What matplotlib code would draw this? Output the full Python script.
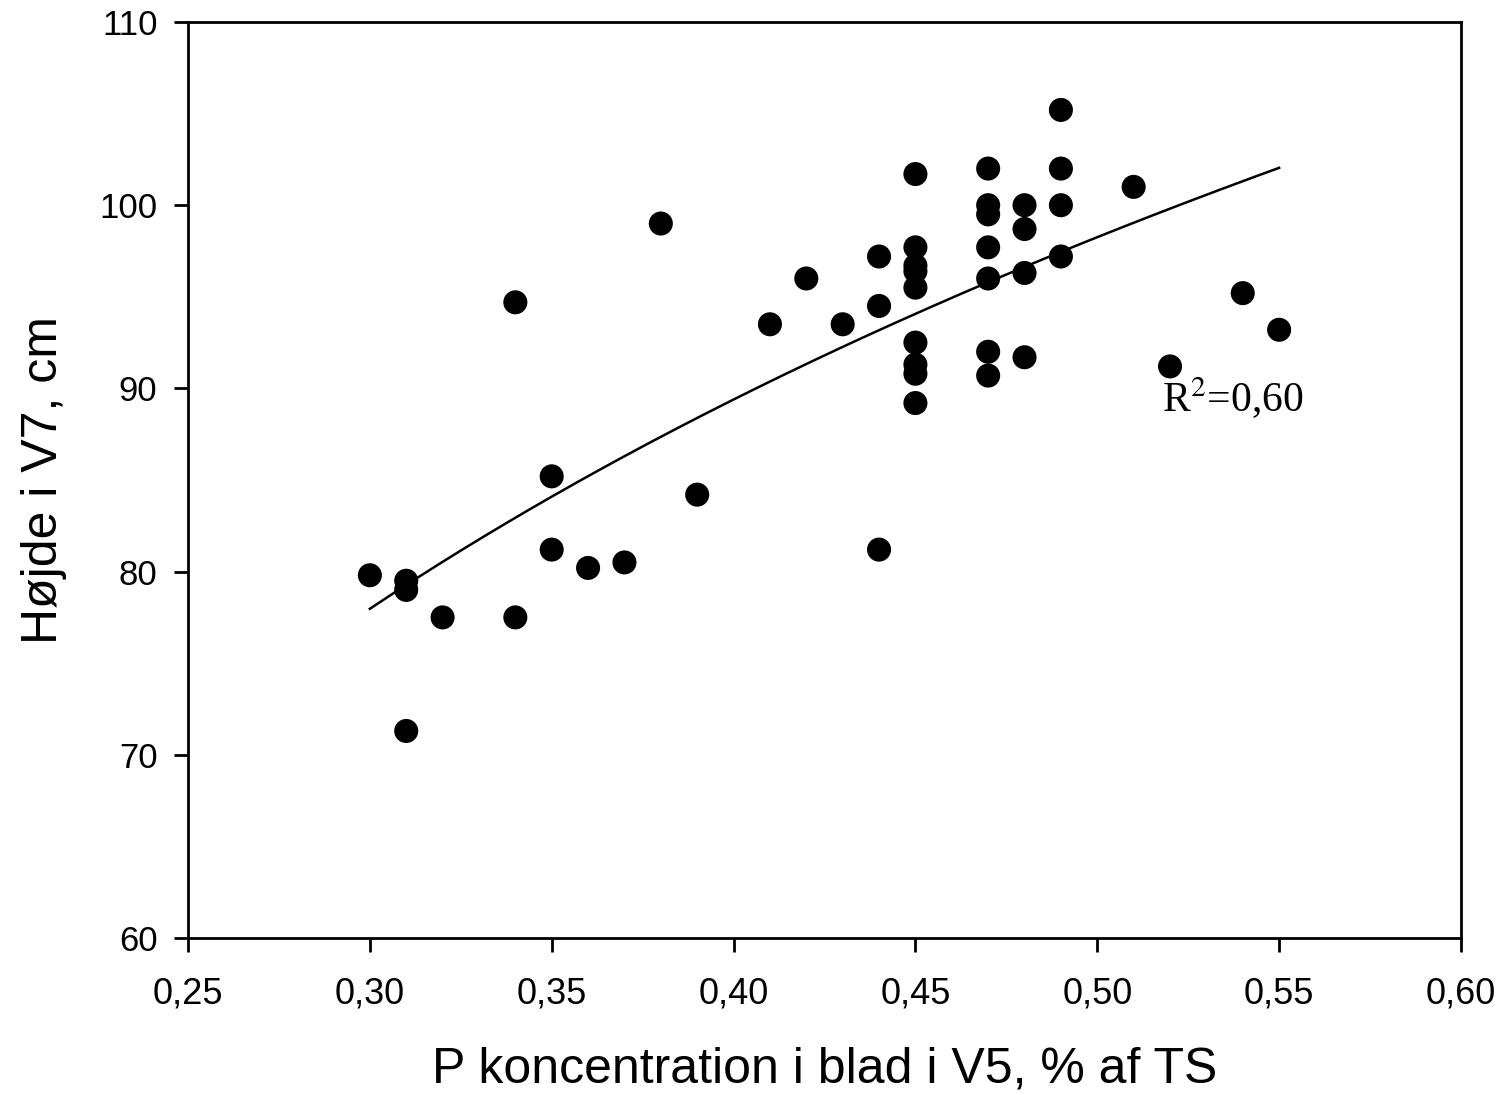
import numpy as np
import matplotlib
matplotlib.use("Agg")
import matplotlib.pyplot as plt
from matplotlib.ticker import FuncFormatter

# P concentration in leaf at V5 (% of DM) and height at V7 (cm)
p_conc = [0.30, 0.31, 0.31, 0.31, 0.32, 0.34, 0.34, 0.35, 0.35, 0.36,
          0.37, 0.38, 0.39, 0.41, 0.42, 0.43, 0.44, 0.44, 0.44,
          0.45, 0.45, 0.45, 0.45, 0.45, 0.45, 0.45, 0.45, 0.45,
          0.47, 0.47, 0.47, 0.47, 0.47, 0.47, 0.47,
          0.48, 0.48, 0.48, 0.48,
          0.49, 0.49, 0.49, 0.49, 0.51, 0.52, 0.54, 0.55]
hoejde = [79.8, 79.5, 79.0, 71.3, 77.5, 94.7, 77.5, 85.2, 81.2, 80.2,
          80.5, 99.0, 84.2, 93.5, 96.0, 93.5, 97.2, 94.5, 81.2,
          101.7, 97.7, 96.7, 96.4, 95.5, 92.5, 91.3, 90.8, 89.2,
          102.0, 100.0, 99.5, 97.7, 96.0, 92.0, 90.7,
          100.0, 98.7, 96.3, 91.7,
          105.2, 102.0, 100.0, 97.2, 101.0, 91.2, 95.2, 93.2]

x_ticks = [0.25, 0.30, 0.35, 0.40, 0.45, 0.50, 0.55, 0.60]
y_ticks = [60, 70, 80, 90, 100, 110]

x = np.array(p_conc)
y = np.array(hoejde)

# logarithmic regression y = a + b*ln(x)
b, a = np.polyfit(np.log(x), y, 1)
xf = np.linspace(x.min(), x.max(), 200)
yf = a + b * np.log(xf)

fig = plt.figure(figsize=(15.04, 10.95), dpi=100)
ax = fig.add_axes([0.125, 0.1434, 0.8464, 0.8365])

ax.scatter(x, y, s=300, c="black", edgecolors="none", zorder=3)
ax.plot(xf, yf, color="black", lw=1.8, zorder=2)

ax.set_xlim(0.25, 0.60)
ax.set_ylim(60, 110)
ax.set_xticks(x_ticks)
ax.set_yticks(y_ticks)
ax.xaxis.set_major_formatter(FuncFormatter(lambda v, p: ("%.2f" % v).replace(".", ",")))
ax.tick_params(direction="out", length=10, width=2, top=False, right=False)
ax.tick_params(axis="x", pad=18, labelsize=26)
ax.tick_params(axis="y", pad=12, labelsize=25)
for lab in ax.get_xticklabels() + ax.get_yticklabels():
    lab.set_family("Liberation Sans")
for sp in ax.spines.values():
    sp.set_linewidth(2)

ax.set_xlabel("P koncentration i blad i V5, % af TS", fontsize=36,
              family="Liberation Sans", labelpad=25)
ax.set_ylabel("Højde i V7, cm", fontsize=36, family="Liberation Sans", labelpad=23)

ax.text(0.5178, 88.7, "R$^2$=0,60", fontsize=30, family="Liberation Serif",
        ha="left", va="baseline", math_fontfamily="stix")

fig.savefig("out.png", dpi=100)
